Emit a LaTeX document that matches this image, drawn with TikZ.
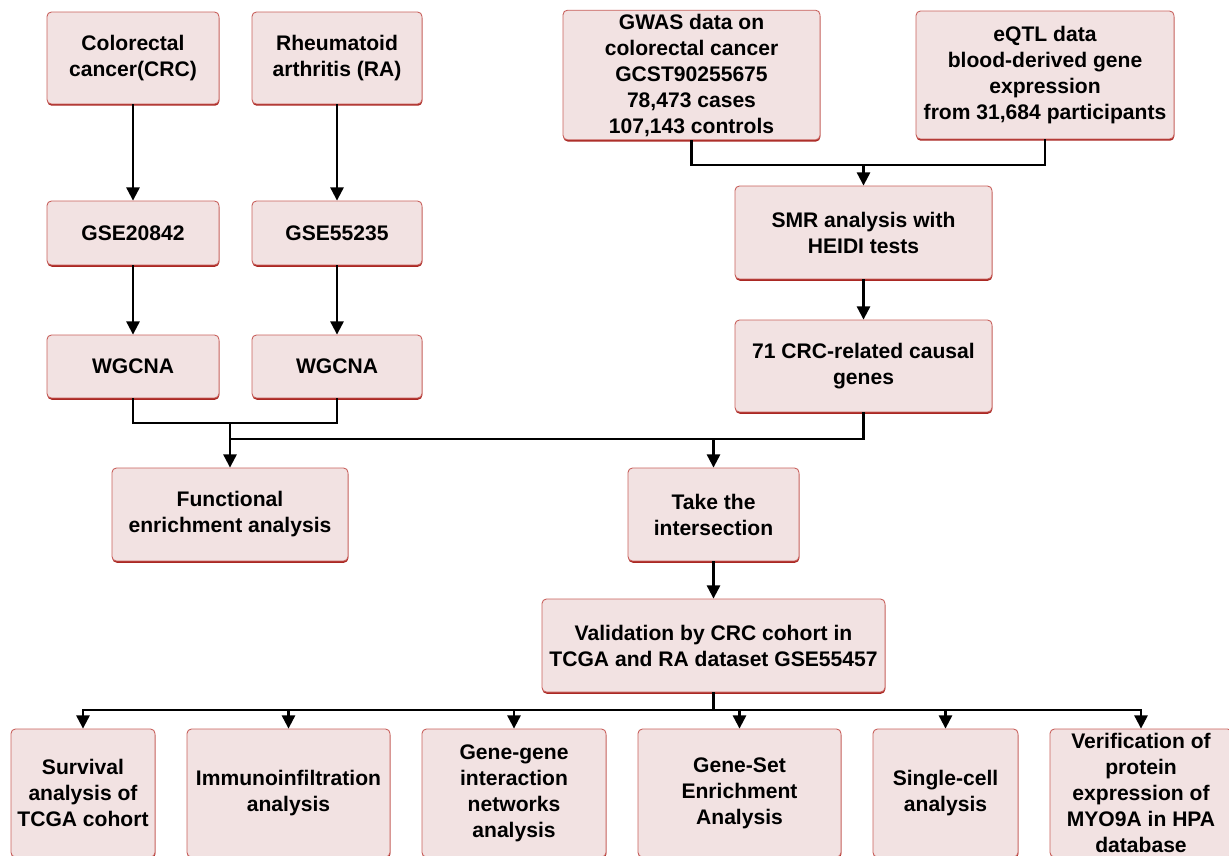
\documentclass[tikz,border=0pt]{standalone}
\usepackage{fontspec}
\setmainfont{Liberation Sans}
\usepackage{xcolor}
\usetikzlibrary{arrows.meta, shadows}

\definecolor{boxfill}{RGB}{242,226,226}
\definecolor{boxedge}{RGB}{200,96,92}
\definecolor{boxshade}{RGB}{170,40,35}

\begin{document}
\begin{tikzpicture}[x=0.02cm, y=-0.02cm,
    flowbox/.style={draw=boxedge, line width=0.5pt, fill=boxfill, rounded corners=2.5pt,
      align=center, inner sep=2pt, font=\fontsize{12}{14.8}\selectfont\bfseries,
      drop shadow={shadow xshift=0.2pt, shadow yshift=-1pt, fill=boxshade, opacity=1}},
    wire/.style={line width=1.2pt},
    link/.style={line width=1.2pt, -{Triangle[length=7.5pt, width=7.5pt]}}]
    \useasboundingbox (0,0) rectangle (1229,855);

    % Two disease datasets
    \node[flowbox, minimum width=3.44cm, minimum height=1.84cm] (crc) at (133,58) {Colorectal\\cancer(CRC)};
    \node[flowbox, minimum width=3.4cm, minimum height=1.84cm] (ra) at (337,58) {Rheumatoid\\arthritis (RA)};
    \node[flowbox, minimum width=3.44cm, minimum height=1.28cm] (gseA) at (133,233) {GSE20842};
    \node[flowbox, minimum width=3.4cm, minimum height=1.28cm] (gseB) at (337,233) {GSE55235};
    \node[flowbox, minimum width=3.44cm, minimum height=1.26cm] (wgA) at (133,366.5) {WGCNA};
    \node[flowbox, minimum width=3.4cm, minimum height=1.26cm] (wgB) at (337,366.5) {WGCNA};

    % GWAS and eQTL
    \node[flowbox, minimum width=5.14cm, minimum height=2.56cm] (gwas) at (691.5,75) {GWAS data on\\colorectal cancer\\GCST90255675\\78,473 cases\\107,143 controls};
    \node[flowbox, minimum width=5.16cm, minimum height=2.56cm] (eqtl) at (1045,75) {eQTL data\\blood-derived gene\\expression\\from 31,684 participants};
    \node[flowbox, minimum width=5.14cm, minimum height=1.86cm] (smr) at (863.5,232.5) {SMR analysis with\\HEIDI tests};
    \node[flowbox, minimum width=5.14cm, minimum height=1.84cm] (causal) at (863.5,366) {71 CRC-related causal\\genes};

    % Middle row
    \node[flowbox, minimum width=4.72cm, minimum height=1.86cm] (func) at (230,514.5) {Functional\\enrichment analysis};
    \node[flowbox, minimum width=3.42cm, minimum height=1.86cm] (inter) at (713.5,514.5) {Take the\\intersection};
    \node[flowbox, minimum width=6.86cm, minimum height=1.86cm] (valid) at (713.5,645.5) {Validation by CRC cohort in\\TCGA and RA dataset GSE55457};

    % Downstream analyses
    \node[flowbox, minimum width=2.88cm, minimum height=2.56cm] (surv) at (83,793) {Survival\\analysis of\\TCGA cohort};
    \node[flowbox, minimum width=4.06cm, minimum height=2.56cm] (immu) at (288.5,793) {Immunoinfiltration\\analysis};
    \node[flowbox, minimum width=3.68cm, minimum height=2.56cm] (gene) at (514,793) {Gene-gene\\interaction\\networks\\analysis};
    \node[flowbox, minimum width=4.06cm, minimum height=2.56cm] (gsea) at (739.5,793) {Gene-Set\\Enrichment\\Analysis};
    \node[flowbox, minimum width=2.9cm, minimum height=2.56cm] (single) at (945.5,793) {Single-cell\\analysis};
    \node[flowbox, minimum width=3.64cm, minimum height=2.56cm] (verif) at (1141,793) {Verification of\\protein\\expression of\\MYO9A in HPA\\database};

    % Junction points
    \coordinate (gwasjoin) at (863.5,165);
    \coordinate (wgjoin) at (230,423);
    \coordinate (mainjoin) at (230,439);
    \coordinate (interjoin) at (713.5,439);
    \coordinate (validjoin) at (713.5,710);

    % Arrows
    \draw[link] (crc) -- (gseA);
    \draw[link] (ra) -- (gseB);
    \draw[link] (gseA) -- (wgA);
    \draw[link] (gseB) -- (wgB);
    \draw[wire] (gwas.south) |- (gwasjoin) -| (eqtl.south);
    \draw[link] (gwasjoin) -- (smr);
    \draw[link] (smr) -- (causal);
    \draw[wire] (wgA.south) |- (wgjoin) -| (wgB.south);
    \draw[link] (wgjoin) -- (func);
    \draw[wire] (mainjoin) -| (causal.south);
    \draw[link] (interjoin) -- (inter);
    \draw[link] (inter) -- (valid);
    \draw[wire] (valid.south) -- (validjoin);
    \foreach \b in {surv,immu,gene,gsea,single,verif}
      \draw[link] (validjoin) -| (\b);
  \end{tikzpicture}
\end{document}
